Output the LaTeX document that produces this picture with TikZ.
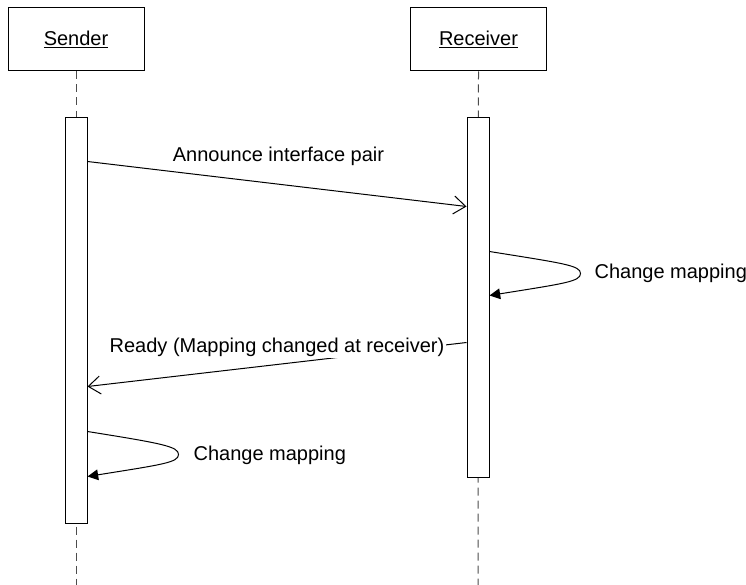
\documentclass[tikz,border=0pt]{standalone}
\usepackage{fontspec}
\setmainfont{Liberation Sans}
\usetikzlibrary{arrows.meta,calc}

\tikzset{
    object/.style={draw, line width=0.75pt, minimum width=102pt, minimum height=47.25pt, font=\fontsize{15}{18}\selectfont},
    lifeline/.style={draw=black!70, line width=0.75pt, dash pattern=on 6pt off 3.75pt},
    activation/.style={draw, fill=white, line width=0.75pt, inner sep=0pt, minimum width=16.5pt},
    message/.style={line width=0.75pt, -{Straight Barb[length=9pt,width=13.5pt]}},
    selfmessage/.style={line width=0.75pt, -{Triangle[length=8pt,width=8pt]}},
    msglabel/.style={font=\fontsize{15}{18}\selectfont, inner sep=1pt},
}

\begin{document}
\begin{tikzpicture}[x=0.75pt, y=-0.75pt]

    \useasboundingbox (0,0) rectangle (746,585);

    \node[object] (sender) at (76,39.5) {\underline{Sender}};
    \node[object] (receiver) at (478.5,39.5) {\underline{Receiver}};

    \draw[lifeline] (sender.south) -- (76,585);
    \draw[lifeline] (receiver.south) -- (478,585);

    \node[activation, minimum height=304.5pt] (sact) at (76,320) {};
    \node[activation, minimum height=270pt] (ract) at (478,297) {};

    \draw[message] ($(sact.north east)+(0,45)$) -- ($(ract.north west)+(0,90)$);
    \node[msglabel] (announce) at (278.5,156) {Announce interface pair};

    \draw[selfmessage] ($(ract.north east)+(0,135)$) .. controls +(75,12) and +(0,-8) .. ++(91,22)
        .. controls +(0,8) and +(75,-12) .. ($(ract.north east)+(0,179)$);
    \node[msglabel, anchor=west] (rchange) at (593,273) {Change mapping};

    \draw[message] ($(ract.north west)+(0,226)$) -- ($(sact.north east)+(0,270)$);
    \node[msglabel, fill=white] (ready) at (277,347) {Ready (Mapping changed at receiver)};

    \draw[selfmessage] ($(sact.north east)+(0,315)$) .. controls +(75,12) and +(0,-8) .. ++(91,23)
        .. controls +(0,8) and +(75,-12) .. ($(sact.north east)+(0,360)$);
    \node[msglabel, anchor=west] (schange) at (192,455) {Change mapping};

\end{tikzpicture}
\end{document}
